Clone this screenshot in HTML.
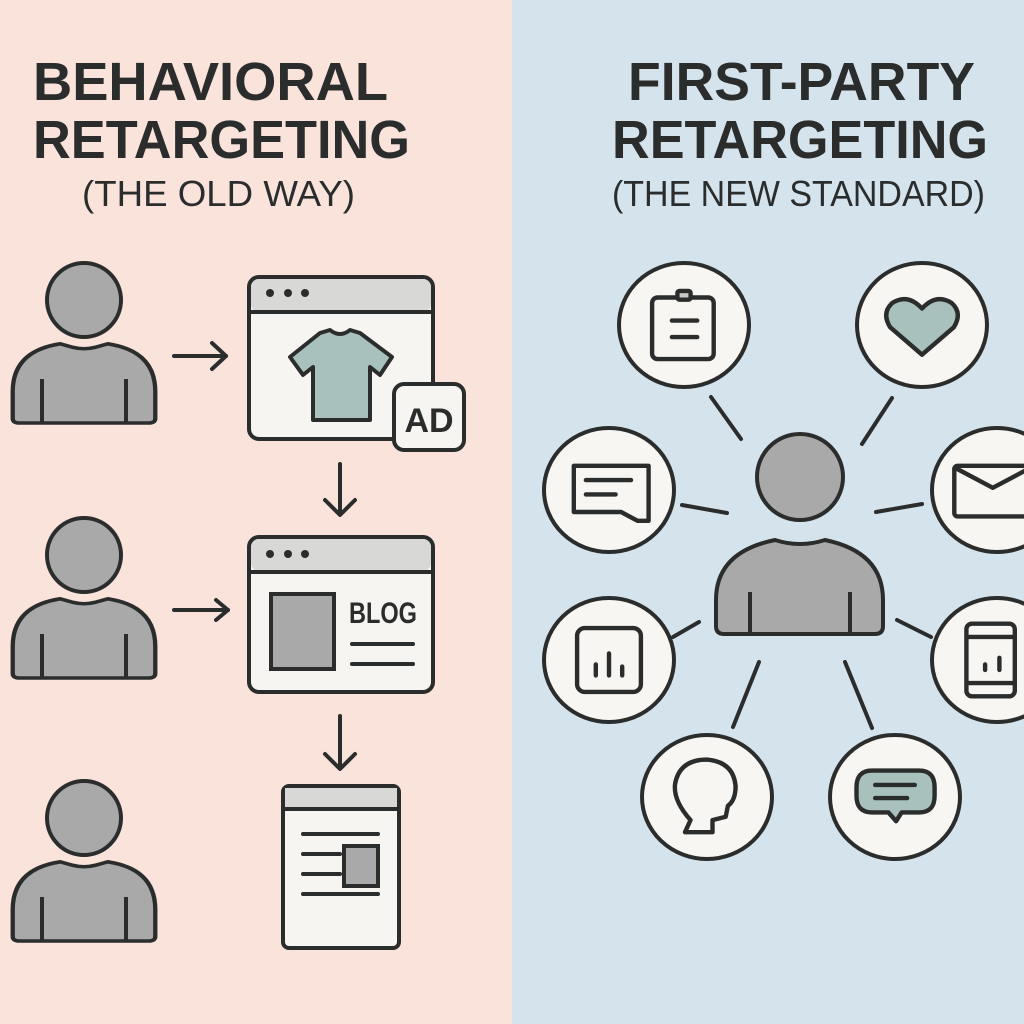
<!DOCTYPE html>
<html><head><meta charset="utf-8"><style>
html,body{margin:0;padding:0;width:1024px;height:1024px;overflow:hidden}
svg{display:block}
text{font-family:"Liberation Sans Narrow","Liberation Sans",sans-serif;fill:#2b2d2d}
</style></head><body>
<svg width="1024" height="1024" viewBox="0 0 1024 1024" xmlns="http://www.w3.org/2000/svg">
<defs>
<g id="person">
<circle cx="0" cy="0" r="37" fill="#a9a9a9" stroke="#2b2d2d" stroke-width="4"/>
<path d="M-66,135 L-66,105 Q-66,60 -22,52 L-10,56 Q0,59 10,56 L22,52 Q66,60 66,105 L66,135 Q66,140 60,140 L-60,140 Q-66,140 -66,135Z" fill="#a9a9a9" stroke="#2b2d2d" stroke-width="4" transform="translate(0,-3) scale(1.08,0.9)"/>
<line x1="-42" y1="79" x2="-42" y2="123" stroke="#2b2d2d" stroke-width="4"/>
<line x1="42" y1="79" x2="42" y2="123" stroke="#2b2d2d" stroke-width="4"/>
</g>
</defs>
<rect x="0" y="0" width="512" height="1024" fill="#f9e3da"/>
<rect x="512" y="0" width="512" height="1024" fill="#d5e4ec"/>

<text x="33" y="100" font-size="54" font-weight="bold" textLength="355" lengthAdjust="spacingAndGlyphs">BEHAVIORAL</text>
<text x="33" y="158" font-size="54" font-weight="bold" textLength="377" lengthAdjust="spacingAndGlyphs">RETARGETING</text>
<text x="82" y="206" font-size="36" textLength="273" lengthAdjust="spacingAndGlyphs">(THE OLD WAY)</text>
<text x="628" y="100" font-size="54" font-weight="bold" textLength="347" lengthAdjust="spacingAndGlyphs">FIRST-PARTY</text>
<text x="612" y="158" font-size="54" font-weight="bold" textLength="376" lengthAdjust="spacingAndGlyphs">RETARGETING</text>
<text x="612" y="206" font-size="36" textLength="373" lengthAdjust="spacingAndGlyphs">(THE NEW STANDARD)</text>

<use href="#person" x="84" y="300"/>
<use href="#person" x="84" y="555"/>
<use href="#person" x="84" y="818"/>

<g stroke="#2b2d2d" stroke-width="4" fill="none" stroke-linecap="round" stroke-linejoin="round">
<line x1="174" y1="356" x2="226" y2="356"/><polyline points="212,343 226,356 212,369"/>
<line x1="174" y1="610" x2="228" y2="610"/><polyline points="216,600 228,610 216,620"/>
<line x1="340" y1="464" x2="340" y2="514"/><polyline points="325,500 340,515 355,500"/>
<line x1="340" y1="716" x2="340" y2="768"/><polyline points="325,754 340,769 355,754"/>
</g>

<!-- browser 1 -->
<rect x="249" y="277" width="184" height="162" rx="10" fill="#f7f5f1" stroke="#2b2d2d" stroke-width="4"/>
<rect x="251" y="279" width="180" height="33" rx="8" fill="#d8d8d6"/>
<line x1="251" y1="312" x2="431" y2="312" stroke="#2b2d2d" stroke-width="4"/>
<circle cx="270" cy="293" r="4" fill="#2b2d2d"/><circle cx="288" cy="293" r="4" fill="#2b2d2d"/><circle cx="305" cy="293" r="4" fill="#2b2d2d"/>
<path d="M320,333 L330,330 Q340,338 350,330 L360,333 L392,357 L380,375 L370,367 L370,420 L313,420 L313,367 L303,375 L290,357Z" fill="#a8c1bc" stroke="#2b2d2d" stroke-width="4" stroke-linejoin="round"/>
<rect x="394" y="384" width="70" height="66" rx="10" fill="#f7f5f1" stroke="#2b2d2d" stroke-width="4"/>
<text x="429" y="432" font-size="34" font-weight="bold" text-anchor="middle">AD</text>

<!-- browser 2 -->
<rect x="249" y="537" width="184" height="155" rx="10" fill="#f7f5f1" stroke="#2b2d2d" stroke-width="4"/>
<rect x="251" y="539" width="180" height="32" rx="8" fill="#d8d8d6"/>
<line x1="251" y1="572" x2="431" y2="572" stroke="#2b2d2d" stroke-width="4"/>
<circle cx="270" cy="554" r="4" fill="#2b2d2d"/><circle cx="288" cy="554" r="4" fill="#2b2d2d"/><circle cx="305" cy="554" r="4" fill="#2b2d2d"/>
<rect x="271" y="594" width="63" height="75" fill="#a9a9a9" stroke="#2b2d2d" stroke-width="4"/>
<text x="383" y="623" font-size="30" font-weight="bold" text-anchor="middle" textLength="68" lengthAdjust="spacingAndGlyphs">BLOG</text>
<line x1="352" y1="644" x2="413" y2="644" stroke="#2b2d2d" stroke-width="4" stroke-linecap="round"/>
<line x1="352" y1="664" x2="413" y2="664" stroke="#2b2d2d" stroke-width="4" stroke-linecap="round"/>

<!-- doc -->
<rect x="283" y="786" width="116" height="162" rx="6" fill="#f7f5f1" stroke="#2b2d2d" stroke-width="4"/>
<rect x="285" y="788" width="112" height="20" fill="#d8d8d6"/>
<line x1="285" y1="809" x2="397" y2="809" stroke="#2b2d2d" stroke-width="4"/>
<g stroke="#2b2d2d" stroke-width="4" stroke-linecap="round">
<line x1="303" y1="834" x2="378" y2="834"/>
<line x1="303" y1="854" x2="340" y2="854"/>
<line x1="303" y1="874" x2="340" y2="874"/>
<line x1="303" y1="894" x2="378" y2="894"/>
</g>
<rect x="344" y="846" width="34" height="40" fill="#a9a9a9" stroke="#2b2d2d" stroke-width="4"/>

<!-- right connectors -->
<g stroke="#2b2d2d" stroke-width="4" stroke-linecap="round">
<line x1="711" y1="397" x2="741" y2="439"/>
<line x1="892" y1="398" x2="862" y2="444"/>
<line x1="682" y1="505" x2="727" y2="513"/>
<line x1="876" y1="512" x2="922" y2="504"/>
<line x1="673" y1="637" x2="699" y2="622"/>
<line x1="897" y1="620" x2="931" y2="637"/>
<line x1="759" y1="662" x2="733" y2="727"/>
<line x1="845" y1="662" x2="872" y2="728"/>
</g>

<g fill="#f8f6f2" stroke="#2b2d2d" stroke-width="4">
<ellipse cx="684" cy="325" rx="65" ry="62"/>
<ellipse cx="922" cy="325" rx="65" ry="62"/>
<ellipse cx="609" cy="490" rx="65" ry="62"/>
<ellipse cx="997" cy="490" rx="65" ry="62"/>
<ellipse cx="609" cy="660" rx="65" ry="62"/>
<ellipse cx="997" cy="660" rx="65" ry="62"/>
<ellipse cx="707" cy="797" rx="65" ry="62"/>
<ellipse cx="895" cy="797" rx="65" ry="62"/>
</g>

<!-- center person -->
<circle cx="800" cy="477" r="43" fill="#a9a9a9" stroke="#2b2d2d" stroke-width="4"/>
<path d="M716,600 Q716,552 775,540 Q800,548 825,540 Q883,552 883,600 L883,626 Q883,634 875,634 L724,634 Q716,634 716,626Z" fill="#a9a9a9" stroke="#2b2d2d" stroke-width="4"/>
<line x1="750" y1="592" x2="750" y2="632" stroke="#2b2d2d" stroke-width="4"/>
<line x1="850" y1="592" x2="850" y2="632" stroke="#2b2d2d" stroke-width="4"/>

<g stroke="#2b2d2d" stroke-width="4" fill="none" stroke-linecap="round" stroke-linejoin="round">
<g transform="translate(684,325) scale(1.1) translate(-684,-316)">
<rect x="655" y="291" width="56" height="56" rx="5"/>
<rect x="678" y="285" width="12" height="8" rx="2" fill="#c8c8c8"/>
<line x1="673" y1="312" x2="696" y2="312"/><line x1="673" y1="327" x2="696" y2="327"/>
</g>
<g transform="translate(922,325) scale(1.1) translate(-922,-316)">
<path d="M922,343 L893,318 Q885,305 895,296 Q909,287 922,301 Q935,287 949,296 Q959,305 951,318Z" fill="#a8c1bc"/>
</g>
<g transform="translate(609,490) scale(1.1) translate(-609,-454)">
<path d="M577,432 L645,432 L645,482 L635,482 L620,474 L577,474Z"/>
<line x1="588" y1="445" x2="629" y2="445"/><line x1="588" y1="458" x2="615" y2="458"/>
</g>
<g transform="translate(995,490) scale(1.1) translate(-998,-454)">
<rect x="961" y="432" width="70" height="46" rx="3"/>
<polyline points="962,434 996,452 1030,434"/>
</g>
<g transform="translate(609,660) scale(1.1) translate(-609,-606)">
<rect x="580" y="577" width="58" height="58" rx="7"/>
<line x1="597" y1="610" x2="597" y2="620"/><line x1="609" y1="600" x2="609" y2="620"/><line x1="621" y1="612" x2="621" y2="620"/>
</g>
<g transform="translate(995,660) scale(1.1) translate(-998,-606)">
<rect x="972" y="573" width="44" height="66" rx="5"/>
<line x1="974" y1="585" x2="1014" y2="585"/><line x1="974" y1="627" x2="1014" y2="627"/>
<line x1="989" y1="610" x2="989" y2="615"/><line x1="1002" y1="604" x2="1002" y2="615"/>
</g>
<g transform="translate(707,797) scale(1.1) translate(-707,-717)">
<path d="M692,738 Q676,720 678,705 Q682,683 707,683 Q731,685 733,707 Q733,720 726,725 L724,735 L712,738 L712,749 L687,749Z"/>
</g>
<g transform="translate(895,797) scale(1.1) translate(-896,-717)">
<path d="M875,693 L918,693 Q932,693 932,708 L932,716 Q932,731 918,731 L902,731 L897,739 L890,731 L875,731 Q861,731 861,716 L861,708 Q861,693 875,693Z" fill="#a8c1bc"/>
<line x1="878" y1="706" x2="914" y2="706"/><line x1="878" y1="718" x2="907" y2="718"/>
</g>
</g>
</svg>
</body></html>
